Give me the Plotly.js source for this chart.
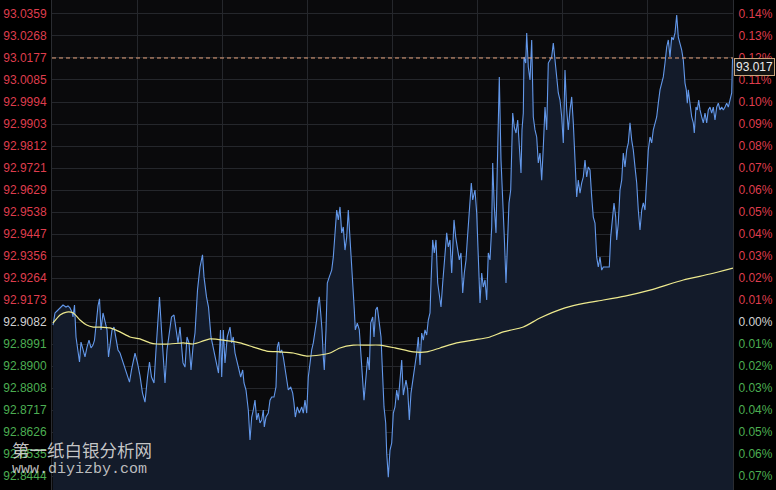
<!DOCTYPE html>
<html>
<head>
<meta charset="utf-8">
<script src="https://cdn.plot.ly/plotly-3.0.1.min.js"></script>
<style>
  html, body { margin: 0; padding: 0; background: #000; }
  #chart { width: 776px; height: 490px; }
</style>
</head>
<body>
<div id="chart"></div>
<script>
// ---- DATA ----
// time step index across the session (0 .. 681)
var t = [1,3,5,8,11,14,16,18,20,21,
22.5,24,25.5,27.5,29,31,33,35,37,39,
41,42.5,44,46,47.5,49,51,53,55,56.5,
58.5,60,62,64.5,66,68,71,74.5,77.5,79.5,
83,85.5,88,90.5,93,95.5,97.5,99.5,102,104,
107.5,109.5,111.5,113,115,117.5,119.5,122,124,126,
128,131,133,135,137,139,141,143,145.5,148,
150.5,152,154.5,156.5,159,161,162.5,164,166.5,168.5,
169.7,171.3,173,175.3,178,179.7,181.3,183,184.7,186.3,
188.7,190.7,192,194,196.3,198,199.7,201.3,203,204.7,
206.3,208,209.7,211.3,212.3,214,216.3,218,219.7,222,
224,225.3,226.7,228,229.7,231.3,233,234.7,236.3,238.7,
240.7,242,243.3,245.3,247.3,249.7,251.3,253,254.7,256.3,
258,259.7,261.3,263,264.7,266.3,267.3,268.7,270,271.3,
272.3,274,275.3,277.3,279.7,281.3,283,284.7,286.3,288,
289.7,291.3,293,294.7,296.3,298,299.7,301.3,302.3,303.3,
305.3,307.3,308.7,310.3,312,314,315.7,317.3,318.7,320.7,
322,323.7,325.3,327.3,329,330.7,332,333.7,334.7,336.3,
338,339.7,341.3,343,344.7,346.3,348,349.7,351.3,354,
355.7,357.3,359,361.3,363,364.7,366.3,368,369.7,371.3,
373,374.7,376.3,378,379,380.7,382.3,384,385.7,387.3,
389,390.7,393,394.7,396.3,398,399.7,402,403.7,405.3,
407.3,409,410.7,412.3,414,415.3,417.3,419.3,420.7,423,
424.7,426,428,429.7,431.3,433,434.7,436.3,438,439.7,
440.7,442.3,444,445.3,447.3,449,450.7,452.3,454,455.3,
457,458.7,460.7,462.3,464,465.7,467.3,469,470,471.3,
472,473.7,474.7,476.3,478,479.7,481.3,483,484.7,486.3,
488,489.7,491.3,493,494.7,496.3,498,499.7,501.3,503,
504.7,506.3,508,509.7,511.3,513,514.7,516.3,518,519.7,
521.3,523,524.7,526.3,528,529.7,531.3,533,534.7,536.3,
538,539.7,541.3,543,544.7,546.3,548,549.7,551.3,554.7,
557.3,558.7,560.3,562,563.7,564.7,566.3,568,569.7,571.3,
573,574.7,576.3,578,579.7,581.3,583,584.7,586.3,588,
589.7,591.3,593,594.7,596.3,598,599.7,601.3,603,604.7,
606.3,608,609.7,611.3,613,614.7,616.3,618,619.7,621.3,
623,624.7,626.3,628,629.7,631.3,633,634.3,635.3,636.3,
638,639.7,641.3,642.3,644,645.3,646.7,648,649.7,651.3,
653,654.7,656.3,658,659.7,661.3,663,664.7,666.3,668,
669.7,671.3,673,674.7,676.3,678,679.7,680.5,681];

// price change in basis points (0.01%)
var changeBp = [-0.14,0.41,0.5,0.64,0.77,0.68,0.73,0.64,0.45,0.23,
0.77,-0.68,-1.27,-1.82,-0.91,-1.27,-1.59,-1.14,-0.82,-1.18,
-1.05,-0.82,-0.05,0.73,1.05,-0.36,0.41,0,-0.36,-1.59,
-0.95,-0.36,-0.23,-0.82,-1.27,-1.41,-1.86,-2.32,-2.73,-2.18,
-1.41,-1.86,-2.45,-3.23,-3.64,-2.5,-1.82,-2.5,-2.77,-1.27,
1.14,-0.36,-1.59,-2.77,-1.27,-0.36,0.23,0.32,-0.36,-0.95,
-0.23,-1.86,-2.05,-0.68,-0.95,-2.18,-1.14,-0.5,1.45,2.5,
3.05,2.05,1.14,0.68,-0.68,-1.14,-1.41,-1.86,-2.32,-0.36,
-2.5,-0.36,-1.86,-0.68,-0.23,-0.95,-0.68,-1.41,-1.73,-2.05,
-2.5,-2.18,-2.77,-3.09,-4,-5.36,-4.32,-4,-3.55,-4.45,
-4.14,-4.59,-4.45,-4,-4.77,-4.32,-4.14,-3.55,-3.41,-3.41,
-2.95,-1.14,-0.91,-1.41,-1.27,-1.59,-2.05,-2.5,-3.09,-2.95,
-3.23,-3.68,-4.32,-3.86,-4.14,-3.86,-4.14,-3.55,-4.14,-2.5,
-1.86,-1.27,-0.95,-0.5,0.09,0.86,1.14,0.41,-0.36,-1.59,
-2.18,-0.36,1.77,2.05,2.36,2.95,4.05,5.09,4.64,5.23,
4.05,4.32,3.27,3.86,5.09,3.86,2.82,1.45,0.55,-0.36,
-0.05,-0.36,-1.27,-2.18,-3.55,-2.5,-1.59,-2.18,-0.05,0.23,
-0.68,0.55,0.68,-0.05,-0.68,-2.5,-3.86,-4.59,-5.95,-7.05,
-5.82,-5.5,-4.14,-3.86,-3.09,-3.55,-2.64,-1.73,-3.32,-2.64,
-3.09,-4.45,-3.23,-2.5,-2.05,-1.41,-0.68,-1.95,-0.5,-0.82,
-0.36,-0.59,0.09,0.41,1.77,3.73,3.14,3.73,1.77,1.14,
0.68,1.77,3.14,4.05,3.41,3.73,2.23,4.64,3.86,3.41,
2.82,3.14,1.32,2.23,2.82,3.73,4.95,6.32,5.55,6,
4.95,3.14,0.86,2.23,1.59,1.91,1,3.14,2.82,4.32,
7.23,5.23,4.05,7.05,11.14,7.36,5.86,3.86,1.77,3.86,
5.41,6,9.5,8.86,8.59,9.18,7.95,6.77,8.73,9.5,
12.05,11.77,13.14,11.59,11,12.82,9.32,8.73,8.41,7.23,
7.68,6.45,7.95,9.77,8.73,11.77,11.91,12.05,12.68,11.91,
11.32,10.41,10.09,9.32,8.14,11.45,9.64,8.73,9.64,10.23,
9.05,7.23,5.68,6.45,5.86,6.32,6.59,7.36,6.59,7.05,
6.91,5.68,4.77,4.5,2.95,2.5,2.95,2.36,2.5,2.5,
2.5,3.86,4.5,5.41,4.77,3.73,4.5,6,6.45,7.68,
7.05,7.82,8.14,9.05,8.27,7.82,7.05,6.32,5.09,4.18,
5.09,5.41,5.09,6.59,7.82,8.41,8.14,8.73,9.05,9.32,
9.95,10.55,10.86,11.14,11.77,12.5,12.82,12.05,12.95,12.82,
13.14,13.95,12.95,12.68,12.36,11.91,10.86,10.55,9.95,10.55,
9.77,9.32,9.05,8.59,9.77,9.64,10.09,9.64,9.32,9.05,
9.5,9.05,9.64,9.77,9.5,9.77,9.18,9.77,9.95,9.64,
9.77,9.64,9.77,9.95,9.77,10.09,10.41,11.91,12];

// average price line (basis points)
var avgT  = [1,8,14.7,21.3,28,34.7,41.3,48,58,68,78,88,98,104.7,118,131.3,141.3,151.3,158,171.3,188,201.3,214.7,228,241.3,254.7,268,278,288,301.3,314.7,328,343,361.3,374.7,388,404.7,421.3,438,451.3,471.3,488,513,533,551.3,573,598,631.3,658,681];
var avgBp = [-0.05,0.32,0.45,0.41,0.09,-0.14,-0.23,-0.23,-0.27,-0.45,-0.68,-0.77,-0.95,-1,-1,-0.95,-1,-0.86,-0.77,-0.82,-0.95,-1.14,-1.32,-1.36,-1.41,-1.55,-1.5,-1.41,-1.18,-1.05,-1.05,-1.05,-1.18,-1.36,-1.36,-1.18,-0.95,-0.82,-0.68,-0.45,-0.23,0.18,0.64,0.86,1,1.18,1.45,1.91,2.18,2.45];

// axis ticks
var tickBp = [14,13,12,11,10,9,8,7,6,5,4,3,2,1,0,-1,-2,-3,-4,-5,-6,-7];
var priceLabels = ["93.0359","93.0268","93.0177","93.0085","92.9994","92.9903","92.9812","92.9721","92.9629","92.9538","92.9447","92.9356","92.9264","92.9173","92.9082","92.8991","92.8900","92.8808","92.8717","92.8626","92.8535","92.8444"];
var pctLabels = ["0.14%","0.13%","0.12%","0.11%","0.10%","0.09%","0.08%","0.07%","0.06%","0.05%","0.04%","0.03%","0.02%","0.01%","0.00%","0.01%","0.02%","0.03%","0.04%","0.05%","0.06%","0.07%"];
var lastPriceLabel = "93.017";
var watermarkCn = "第一纸白银分析网";
var watermarkUrl = "www.diyizby.com";

// ---- STYLE / BUILD ----
var RED = "#df3d4d", GREEN = "#4cae52", NEUTRAL = "#d2d2d2";
function colorize(labels) {
  return labels.map(function (s, i) {
    var v = tickBp[i];
    var c = v > 0 ? RED : (v < 0 ? GREEN : NEUTRAL);
    return '<span style="color:' + c + '">' + s + '</span>';
  });
}
var yRange = [-7.636, 14.636];
var xRange = [0, 681];
var lastBp = changeBp[changeBp.length - 1];

var traces = [
  { // invisible baseline for area fill
    x: [t[0], t[t.length - 1]], y: [yRange[0], yRange[0]],
    mode: "lines", line: { width: 0, color: "rgba(0,0,0,0)" },
    hoverinfo: "skip", showlegend: false
  },
  {
    x: t, y: changeBp, mode: "lines",
    line: { color: "#6398ea", width: 1.1 },
    fill: "tonexty", fillcolor: "#131b2a",
    showlegend: false
  },
  {
    x: [xRange[0], xRange[1]], y: [lastBp, lastBp], mode: "lines",
    line: { color: "#e9a47e", width: 1, dash: "4px,3px" },
    showlegend: false
  },
  {
    x: avgT, y: avgBp, mode: "lines", yaxis: "y2",
    line: { color: "#eeea8e", width: 1.2, shape: "spline", smoothing: 0.6 },
    showlegend: false
  }
];

var axisFont = { family: "Liberation Sans, Arial, sans-serif", size: 12, color: NEUTRAL };
var gridColor = "#25272c";

var layout = {
  width: 776, height: 490,
  margin: { l: 52, r: 43, t: 0, b: 0, pad: 0 },
  paper_bgcolor: "#000000",
  plot_bgcolor: "#0a0a0c",
  showlegend: false,
  hovermode: false,
  xaxis: {
    range: xRange, tick0: 0, dtick: (xRange[1] - xRange[0]) / 8,
    showgrid: true, gridcolor: gridColor, gridwidth: 1,
    zeroline: false, showticklabels: false, ticks: "", showline: false
  },
  yaxis: {
    range: yRange, tickmode: "array", tickvals: tickBp, ticktext: colorize(priceLabels),
    showgrid: true, gridcolor: gridColor, gridwidth: 1, zeroline: false,
    ticks: "", tickfont: axisFont, ticklabelstandoff: 2,
    showline: true, linecolor: "#2a2c31", linewidth: 1
  },
  yaxis2: {
    overlaying: "y", side: "right",
    range: yRange, tickmode: "array", tickvals: tickBp, ticktext: colorize(pctLabels),
    showgrid: false, zeroline: false, ticks: "", tickfont: axisFont, ticklabelstandoff: 2,
    showline: true, linecolor: "#2a2c31", linewidth: 1
  },
  annotations: [
    {
      xref: "paper", yref: "y", x: 1, y: lastBp, xanchor: "left", yanchor: "top",
      xshift: 1, text: lastPriceLabel, showarrow: false,
      font: { family: "Liberation Sans, Arial, sans-serif", size: 12, color: "#ececec" },
      bgcolor: "#141414", bordercolor: "#c9a57c", borderwidth: 1, borderpad: 1
    },
    {
      xref: "paper", yref: "paper", x: -42 / 681, y: 1 - 449 / 490, xanchor: "left", yanchor: "middle",
      text: watermarkCn, showarrow: false,
      font: { family: "Noto Sans CJK SC, sans-serif", size: 17.5, color: "rgba(215,215,215,0.92)" }
    },
    {
      xref: "paper", yref: "paper", x: -42 / 681, y: 1 - 469 / 490, xanchor: "left", yanchor: "middle",
      text: watermarkUrl, showarrow: false,
      font: { family: "Liberation Mono, Courier New, monospace", size: 15, color: "rgba(205,205,205,0.92)" }
    }
  ]
};

Plotly.newPlot("chart", traces, layout, { displayModeBar: false, staticPlot: true });
</script>
</body>
</html>
